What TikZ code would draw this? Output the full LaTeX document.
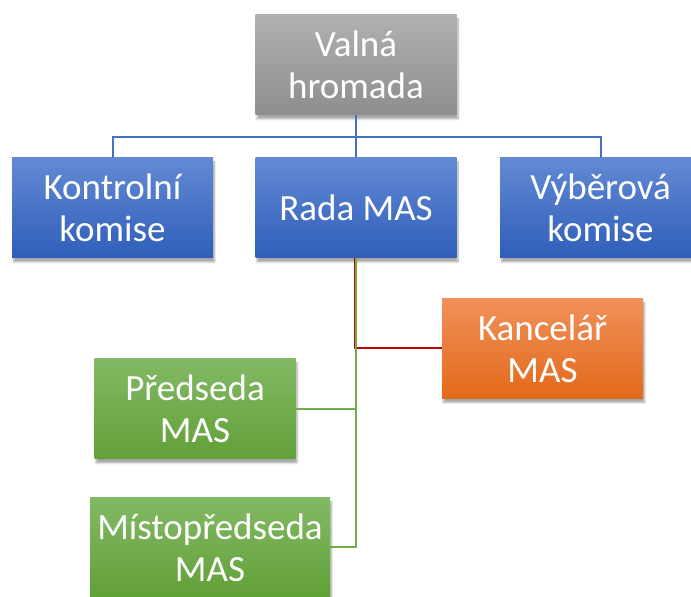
\documentclass[tikz,border=0pt]{standalone}
\usepackage{fontspec}
\setmainfont{Carlito}
\usetikzlibrary{shadows.blur}
\definecolor{grayTop}{HTML}{B0B0B0}
\definecolor{grayBot}{HTML}{8E8E8E}
\definecolor{blueTop}{HTML}{6289D3}
\definecolor{blueBot}{HTML}{2F5EBA}
\definecolor{orangeTop}{HTML}{F1905A}
\definecolor{orangeBot}{HTML}{E2691A}
\definecolor{greenTop}{HTML}{82B964}
\definecolor{greenBot}{HTML}{62A038}
\definecolor{blueLine}{HTML}{4472C4}
\definecolor{greenLine}{HTML}{70AD47}
\definecolor{redLine}{HTML}{C00000}

\begin{document}
\begin{tikzpicture}[x=1pt,y=1pt,
  box/.style={minimum width=201pt,minimum height=100pt,inner sep=0pt,
    text=white,align=center,font=\fontsize{37}{42}\selectfont,
    blur shadow={shadow xshift=1.5pt,shadow yshift=-4pt,shadow blur steps=6,shadow opacity=35}},
  gray box/.style={box,top color=grayTop,bottom color=grayBot},
  blue box/.style={box,top color=blueTop,bottom color=blueBot},
  orange box/.style={box,top color=orangeTop,bottom color=orangeBot},
  green box/.style={box,top color=greenTop,bottom color=greenBot},
  conn/.style={line width=2pt}]
  \useasboundingbox (0,0) rectangle (691,597);
  \node[gray box]   (vh)   at (356,532)   {Valná\\hromada};
  \node[blue box]   (kk)   at (112.5,389) {Kontrolní\\komise};
  \node[blue box]   (rada) at (356,389)   {Rada MAS};
  \node[blue box]   (vk)   at (600.5,389) {Výběrová\\komise};
  \node[orange box] (kanc) at (542.5,248.5) {Kancelář\\MAS};
  \node[green box]  (pred) at (195,188)   {Předseda\\MAS};
  \node[green box,minimum width=240pt,minimum height=99pt]
                    (mist) at (210,49.5)  {Místopředseda\\MAS};
  \draw[conn,blueLine] (vh) -- (rada);
  \draw[conn,blueLine] (kk.north) -- ++(0,21) -| (vk.north);
  \draw[conn,redLine] ([xshift=-0.8pt]rada.south) |- (kanc.west);
  \draw[conn,greenLine] ([xshift=0.4pt]rada.south) |- (pred.east);
  \draw[conn,greenLine] ([xshift=0.4pt]rada.south) |- (mist.east);
\end{tikzpicture}
\end{document}
